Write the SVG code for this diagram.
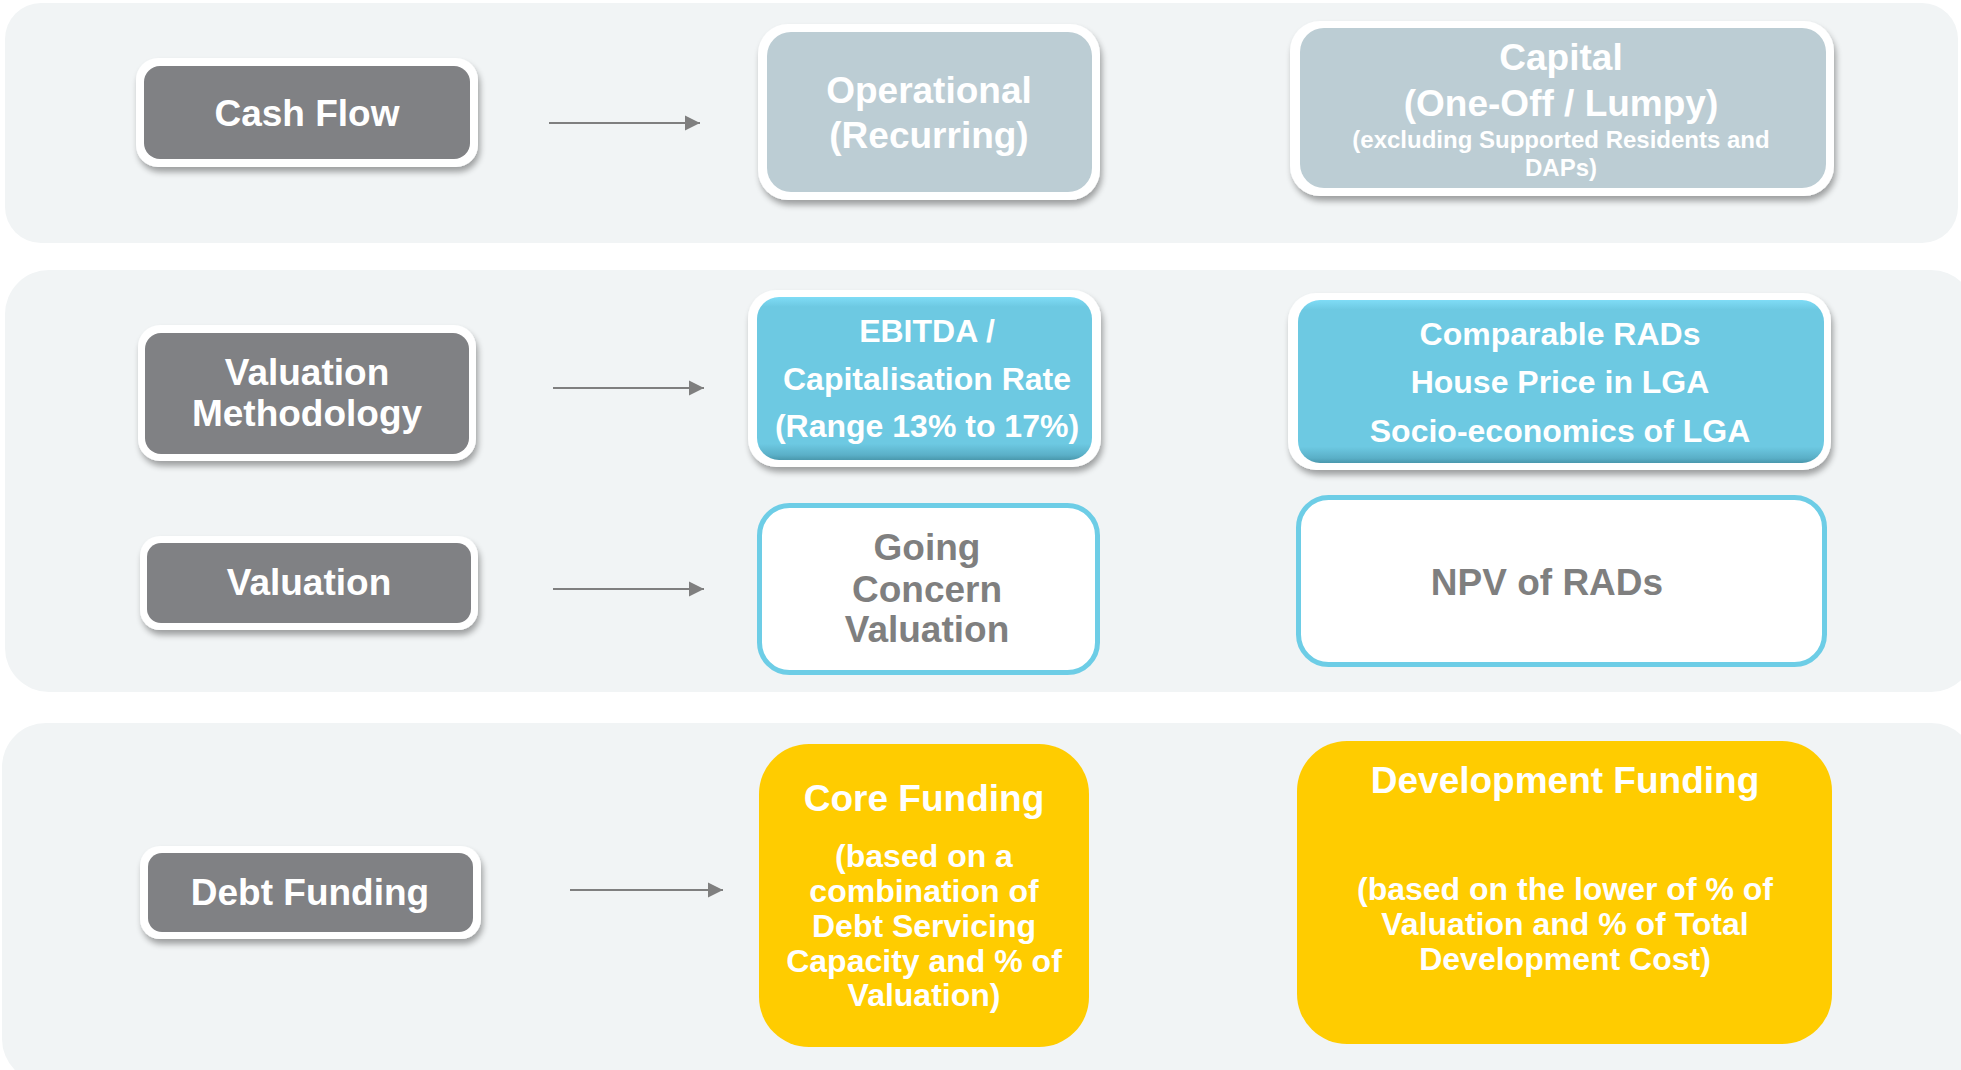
<svg xmlns="http://www.w3.org/2000/svg" width="1961" height="1070" viewBox="0 0 1961 1070">
  <defs>
    <filter id="shadow" x="-10%" y="-10%" width="125%" height="130%">
      <feGaussianBlur in="SourceAlpha" stdDeviation="3"/>
      <feOffset dx="2" dy="5" result="b"/>
      <feComponentTransfer><feFuncA type="linear" slope="0.35"/></feComponentTransfer>
      <feMerge><feMergeNode/><feMergeNode in="SourceGraphic"/></feMerge>
    </filter>
    <linearGradient id="blueFill" x1="0" y1="0" x2="0" y2="1">
      <stop offset="0" stop-color="#7fdcf6"/>
      <stop offset="0.06" stop-color="#6dc9e2"/>
      <stop offset="0.9" stop-color="#6dc9e2"/>
      <stop offset="0.97" stop-color="#5aafc7"/>
      <stop offset="1" stop-color="#4a98ad"/>
    </linearGradient>
    <marker id="arrow" markerUnits="userSpaceOnUse" markerWidth="16" markerHeight="16" refX="15" refY="8" orient="auto">
      <path d="M0,0.5 L15,8 L0,15.5 Z" fill="#7f7f7f"/>
    </marker>
  </defs>
  <style>
    .band { fill: #f1f4f5; }
    .frame { fill: #ffffff; filter: url(#shadow); }
    .dark { fill: #808184; }
    .pale { fill: #bccdd4; }
    .blue { fill: url(#blueFill); }
    .outline { fill: #ffffff; stroke: #6dcde6; stroke-width: 5; }
    .gold { fill: #ffcc00; }
    text { font-family: "Liberation Sans", Arial, sans-serif; font-weight: bold; text-anchor: middle; fill: #ffffff; }
    .t37 { font-size: 37px; }
    .t32 { font-size: 32px; }
    .t24 { font-size: 24px; }
    .grey { fill: #7f7f7f; }
    .conn { stroke: #7f7f7f; stroke-width: 2; fill: none; marker-end: url(#arrow); }
  </style>

  <!-- background bands -->
  <g id="bands">
    <rect class="band" x="5" y="3" width="1953" height="240" rx="36"/>
    <rect class="band" x="5" y="270" width="1970" height="422" rx="44"/>
    <rect class="band" x="2" y="723" width="1973" height="360" rx="44"/>
  </g>

  <!-- row 1: cash flow -->
  <g id="cash-flow">
    <rect class="frame" x="136" y="58" width="342" height="109" rx="22"/>
    <rect class="dark" x="144" y="66" width="326" height="93" rx="16"/>
    <text class="t37" x="307" y="126">Cash Flow</text>
  </g>
  <g id="operational">
    <rect class="frame" x="758" y="24" width="342" height="176" rx="30"/>
    <rect class="pale" x="767" y="32" width="325" height="160" rx="24"/>
    <text class="t37" x="929" y="103">Operational</text>
    <text class="t37" x="929" y="148">(Recurring)</text>
  </g>
  <g id="capital">
    <rect class="frame" x="1290" y="21" width="544" height="175" rx="30"/>
    <rect class="pale" x="1300" y="28" width="526" height="160" rx="24"/>
    <text class="t37" x="1561" y="70">Capital</text>
    <text class="t37" x="1561" y="116">(One-Off / Lumpy)</text>
    <text class="t24" x="1561" y="148">(excluding Supported Residents and</text>
    <text class="t24" x="1561" y="176">DAPs)</text>
  </g>

  <!-- row 2: valuation methodology -->
  <g id="valuation-methodology">
    <rect class="frame" x="138" y="325" width="338" height="136" rx="22"/>
    <rect class="dark" x="145" y="333" width="324" height="121" rx="16"/>
    <text class="t37" x="307" y="385">Valuation</text>
    <text class="t37" x="307" y="426">Methodology</text>
  </g>
  <g id="ebitda">
    <rect class="frame" x="748" y="290" width="353" height="177" rx="28"/>
    <rect class="blue" x="757" y="297" width="335" height="163" rx="22"/>
    <text class="t32" x="927" y="342">EBITDA /</text>
    <text class="t32" x="927" y="390">Capitalisation Rate</text>
    <text class="t32" x="927" y="437">(Range 13% to 17%)</text>
  </g>
  <g id="comparable-rads">
    <rect class="frame" x="1288" y="293" width="543" height="177" rx="28"/>
    <rect class="blue" x="1298" y="300" width="526" height="163" rx="22"/>
    <text class="t32" x="1560" y="345">Comparable RADs</text>
    <text class="t32" x="1560" y="393">House Price in LGA</text>
    <text class="t32" x="1560" y="442">Socio-economics of LGA</text>
  </g>

  <!-- row 2: valuation -->
  <g id="valuation">
    <rect class="frame" x="140" y="536" width="338" height="94" rx="20"/>
    <rect class="dark" x="147" y="543" width="324" height="80" rx="14"/>
    <text class="t37" x="309" y="595">Valuation</text>
  </g>
  <g id="going-concern">
    <rect class="outline" x="759.5" y="505.5" width="338" height="167" rx="30"/>
    <text class="t37 grey" x="927" y="560">Going</text>
    <text class="t37 grey" x="927" y="602">Concern</text>
    <text class="t37 grey" x="927" y="642">Valuation</text>
  </g>
  <g id="npv-rads">
    <rect class="outline" x="1298.5" y="497.5" width="526" height="167" rx="30"/>
    <text class="t37 grey" x="1547" y="595">NPV of RADs</text>
  </g>

  <!-- row 3: debt funding -->
  <g id="debt-funding">
    <rect class="frame" x="140" y="846" width="341" height="93" rx="20"/>
    <rect class="dark" x="148" y="853" width="325" height="79" rx="14"/>
    <text class="t37" x="310" y="905">Debt Funding</text>
  </g>
  <g id="core-funding">
    <rect class="gold" x="759" y="744" width="330" height="303" rx="50"/>
    <text class="t37" x="924" y="811">Core Funding</text>
    <text class="t32" x="924" y="867">(based on a</text>
    <text class="t32" x="924" y="902">combination of</text>
    <text class="t32" x="924" y="937">Debt Servicing</text>
    <text class="t32" x="924" y="972">Capacity and % of</text>
    <text class="t32" x="924" y="1006">Valuation)</text>
  </g>
  <g id="development-funding">
    <rect class="gold" x="1297" y="741" width="535" height="303" rx="50"/>
    <text class="t37" x="1565" y="793">Development Funding</text>
    <text class="t32" x="1565" y="900">(based on the lower of % of</text>
    <text class="t32" x="1565" y="935">Valuation and % of Total</text>
    <text class="t32" x="1565" y="970">Development Cost)</text>
  </g>

  <!-- connectors -->
  <g id="connectors">
    <line class="conn" x1="549" y1="123" x2="700" y2="123"/>
    <line class="conn" x1="553" y1="388" x2="704" y2="388"/>
    <line class="conn" x1="553" y1="589" x2="704" y2="589"/>
    <line class="conn" x1="570" y1="890" x2="723" y2="890"/>
  </g>
</svg>
